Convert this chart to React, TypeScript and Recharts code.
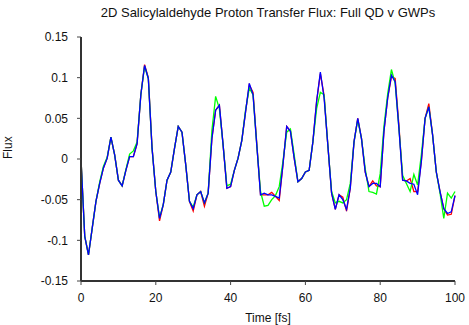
import { LineChart, Line, XAxis, YAxis } from "recharts";

// time axis, 1 fs steps
const times = Array.from({ length: 101 }, (_, i) => i);

// Full QD reference
const fullQD = [
  0.0, -0.095, -0.118, -0.085, -0.052, -0.03, -0.011, 0.001, 0.027, 0.005,
  -0.026, -0.033, -0.014, 0.003, 0.003, 0.019, 0.079, 0.116, 0.1, 0.014,
  -0.04, -0.076, -0.056, -0.026, -0.016, 0.013, 0.04, 0.033, -0.007, -0.052,
  -0.064, -0.044, -0.04, -0.058, -0.042, 0.025, 0.06, 0.066, 0.017, -0.036,
  -0.034, -0.014, 0.001, 0.023, 0.058, 0.091, 0.082, 0.019, -0.044, -0.044,
  -0.044, -0.041, -0.046, -0.051, -0.007, 0.04, 0.034, 0.001, -0.028, -0.024,
  -0.016, -0.014, 0.021, 0.071, 0.105, 0.078, 0.017, -0.042, -0.062, -0.044,
  -0.047, -0.064, -0.036, 0.021, 0.05, 0.025, -0.016, -0.034, -0.027, -0.033,
  -0.034, 0.034, 0.075, 0.101, 0.099, 0.042, -0.026, -0.027, -0.024, -0.04,
  -0.04, -0.003, 0.05, 0.068, 0.03, -0.016, -0.04, -0.061, -0.069, -0.068,
  -0.045,
];

// GWP run A
const gwpA = [
  0.0, -0.095, -0.118, -0.085, -0.052, -0.028, -0.009, 0.002, 0.027, 0.005,
  -0.026, -0.033, -0.013, 0.006, 0.01, 0.021, 0.079, 0.114, 0.099, 0.013,
  -0.04, -0.072, -0.056, -0.026, -0.016, 0.013, 0.04, 0.033, -0.007, -0.052,
  -0.059, -0.044, -0.04, -0.054, -0.042, 0.035, 0.077, 0.062, 0.017, -0.033,
  -0.031, -0.014, 0.001, 0.023, 0.06, 0.087, 0.079, 0.017, -0.04, -0.058,
  -0.057, -0.05, -0.045, -0.034, -0.003, 0.033, 0.037, 0.005, -0.028, -0.024,
  -0.016, -0.014, 0.021, 0.062, 0.082, 0.079, 0.017, -0.04, -0.054, -0.052,
  -0.054, -0.05, -0.03, 0.021, 0.048, 0.025, -0.012, -0.04, -0.041, -0.043,
  -0.018, 0.04, 0.08, 0.11, 0.093, 0.038, -0.02, -0.03, -0.04, -0.019,
  -0.032, 0.005, 0.05, 0.064, 0.03, -0.016, -0.042, -0.073, -0.042, -0.048,
  -0.04,
];

// GWP run B
const gwpB = [
  0.0, -0.095, -0.118, -0.085, -0.052, -0.03, -0.011, 0.001, 0.027, 0.005,
  -0.026, -0.033, -0.014, 0.003, 0.003, 0.019, 0.079, 0.115, 0.099, 0.013,
  -0.04, -0.073, -0.056, -0.026, -0.016, 0.013, 0.04, 0.033, -0.007, -0.052,
  -0.061, -0.044, -0.04, -0.054, -0.042, 0.025, 0.06, 0.066, 0.017, -0.036,
  -0.034, -0.014, 0.001, 0.023, 0.058, 0.093, 0.079, 0.017, -0.044, -0.042,
  -0.044, -0.044, -0.046, -0.048, -0.007, 0.04, 0.034, 0.001, -0.028, -0.024,
  -0.016, -0.014, 0.021, 0.071, 0.107, 0.075, 0.017, -0.042, -0.062, -0.044,
  -0.05, -0.062, -0.036, 0.021, 0.05, 0.025, -0.016, -0.034, -0.03, -0.03,
  -0.034, 0.034, 0.075, 0.103, 0.095, 0.038, -0.026, -0.027, -0.03, -0.031,
  -0.044, -0.003, 0.05, 0.064, 0.03, -0.016, -0.04, -0.061, -0.067, -0.065,
  -0.045,
];

const xTicks = [0, 20, 40, 60, 80, 100];
const yTicks = [-0.15, -0.1, -0.05, 0, 0.05, 0.1, 0.15];

const data = times.map((t, i) => ({
  t,
  qd: fullQD[i],
  a: gwpA[i],
  b: gwpB[i],
}));

const font = "'Liberation Sans', Arial, sans-serif";
const frame = { stroke: "#333", strokeWidth: 2 };
const tickStroke = { stroke: "#444", strokeWidth: 1 };

export default function App() {
  return (
    <div style={{ position: "absolute", left: 0, top: 0, width: 469, height: 325, background: "#fff", fontFamily: font }}>
      <div
        style={{
          position: "absolute",
          left: 81,
          width: 374,
          top: 5,
          textAlign: "center",
          fontSize: 13,
          color: "#111",
        }}
      >
        2D Salicylaldehyde Proton Transfer Flux: Full QD v GWPs
      </div>
      <LineChart
        width={469}
        height={325}
        data={data}
        margin={{ top: 37, right: 14, bottom: 0, left: 0 }}
      >
        <XAxis
          dataKey="t"
          type="number"
          domain={[0, 100]}
          ticks={xTicks}
          tickSize={4}
          tickMargin={8}
          height={44}
          axisLine={frame}
          tickLine={tickStroke}
          tick={{ fontSize: 12, fill: "#111", fontFamily: font }}
          label={{ value: "Time [fs]", position: "insideBottom", offset: 3, fontSize: 12, fill: "#111", fontFamily: font }}
        />
        <XAxis
          xAxisId="top"
          orientation="top"
          dataKey="t"
          type="number"
          domain={[0, 100]}
          ticks={xTicks}
          tickSize={4}
          height={0}
          axisLine={frame}
          tickLine={tickStroke}
          tick={false}
        />
        <YAxis
          type="number"
          domain={[-0.15, 0.15]}
          ticks={yTicks}
          tickSize={4}
          tickMargin={9}
          width={81}
          axisLine={frame}
          tickLine={tickStroke}
          tickFormatter={(v: number) => `${Math.round(v * 100) / 100}`}
          tick={{ fontSize: 12, fill: "#111", fontFamily: font }}
          label={{ value: "Flux", angle: -90, position: "insideLeft", offset: 8, fontSize: 12, fill: "#111", fontFamily: font }}
        />
        <YAxis
          yAxisId="right"
          orientation="right"
          type="number"
          domain={[-0.15, 0.15]}
          ticks={yTicks}
          tickSize={4}
          width={0}
          axisLine={frame}
          tickLine={tickStroke}
          tick={false}
        />
        <Line dataKey="qd" stroke="#ff0000" strokeWidth={1.3} dot={false} isAnimationActive={false} />
        <Line dataKey="a" stroke="#00ff00" strokeWidth={1.3} dot={false} isAnimationActive={false} />
        <Line dataKey="b" stroke="#0000ff" strokeWidth={1.3} dot={false} isAnimationActive={false} />
      </LineChart>
    </div>
  );
}
